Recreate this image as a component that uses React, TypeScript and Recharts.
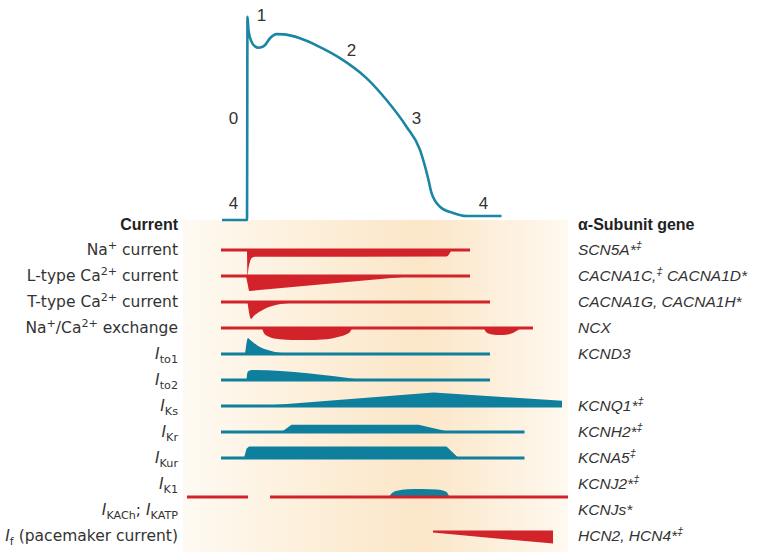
import { ComposedChart, Line, Area, Scatter, XAxis, YAxis } from "recharts";

const WIDTH = 762;
const HEIGHT = 560;
const LEFT_W = 183;
const RIGHT_W = 194;
// time axis in ms, 0 = upstroke
const TIME_DOMAIN: [number, number] = [-128, 642];
// membrane potential axis in mV
const AP_DOMAIN: [number, number] = [-300, 50];
// row axis: row i sits at value -i
const ROW0_Y = 250;
const ROW_PITCH = 26;
const ROW_DOMAIN: [number, number] = [-(HEIGHT - ROW0_Y) / ROW_PITCH, ROW0_Y / ROW_PITCH];

const RED = "#d2232a";
const TEAL = "#0e7f9d";
const AP_COLOR = "#1a86a4";
const TEXT = "#333333";

// action potential
const apTime = [-50, 0, 1, 3, 9, 16, 23, 30, 36, 46, 59, 75, 106, 146, 186, 239, 279, 319, 346, 363, 369, 386, 412, 439, 509];
const apVolt = [-87.5, -87.5, 39.5, 31, 24, 21, 20.2, 20.6, 21.9, 26.1, 28.7, 28.5, 26.1, 20.6, 13.7, 1.2, -12.5, -29.2, -43.7, -62.5, -70.6, -79.2, -83.1, -85, -85];

const phaseLabels = ["0", "1", "2", "3", "4", "4"];
const phaseTime = [-27, 29, 209, 339, -27, 473];
const phaseVolt = [-24, 40.6, 18.75, -24, -77, -77];

// currents (relative amplitude, inward < 0, outward > 0)
const naTime = [0, 1, 3, 6, 10, 16, 399, 409];
const naAmp = [0, -1.0, -0.7, -0.45, -0.3, -0.26, -0.25, 0];
const caLTime = [-2, 4, 333];
const caLAmp = [0, -0.58, 0];
const caTTime = [1, 8, 14, 20, 28, 40, 54, 70, 90, 110, 130];
const caTAmp = [0, -0.65, -0.53, -0.44, -0.35, -0.22, -0.13, -0.07, -0.03, -0.01, 0];
const ncxTime = [30, 34, 40, 50, 66, 90, 120, 150, 170, 186, 198, 206, 212, 472, 478, 488, 500, 512, 524, 534, 542, 546];
const ncxAmp = [0, -0.2, -0.3, -0.38, -0.43, -0.46, -0.46, -0.44, -0.4, -0.33, -0.25, -0.15, 0, 0, -0.15, -0.24, -0.27, -0.27, -0.24, -0.17, -0.08, 0];
const to1Time = [-4, 2, 6, 12, 20, 30, 40, 54, 70, 86, 100];
const to1Amp = [0, 0.62, 0.55, 0.45, 0.34, 0.23, 0.16, 0.09, 0.04, 0.02, 0];
const to2Time = [-1, 1, 4, 10, 229];
const to2Amp = [0, 0.3, 0.36, 0.38, 0];
const ksTime = [29, 373, 630];
const ksAmp = [0, 0.52, 0.2];
const krTime = [69, 89, 343, 406];
const krAmp = [0, 0.28, 0.28, 0];
const kurTime = [-6, -1, 4, 399, 423];
const kurAmp = [0, 0.36, 0.44, 0.44, 0];
const k1Time = [284, 290, 300, 320, 350, 380, 396, 402, 405];
const k1Amp = [0, 0.15, 0.24, 0.3, 0.31, 0.29, 0.22, 0.12, 0];
const ifTime = [372, 612];
const ifAmp = [-0.08, -0.5];

type Seg = [string, string?];

const currentLabels: Seg[][] = [
  [["Na"], ["+", "sup"], [" current"]],
  [["L-type Ca"], ["2+", "sup"], [" current"]],
  [["T-type Ca"], ["2+", "sup"], [" current"]],
  [["Na"], ["+", "sup"], ["/Ca"], ["2+", "sup"], [" exchange"]],
  [["I", "i"], ["to1", "sub"]],
  [["I", "i"], ["to2", "sub"]],
  [["I", "i"], ["Ks", "sub"]],
  [["I", "i"], ["Kr", "sub"]],
  [["I", "i"], ["Kur", "sub"]],
  [["I", "i"], ["K1", "sub"]],
  [["I", "i"], ["KACh", "sub"], ["; "], ["I", "i"], ["KATP", "sub"]],
  [["I", "i"], ["f", "sub"], [" (pacemaker current)"]],
];

const geneLabels: Seg[][] = [
  [["SCN5A*"], ["‡", "sup"]],
  [["CACNA1C,"], ["‡", "sup"], [" CACNA1D*"]],
  [["CACNA1G, CACNA1H*"]],
  [["NCX"]],
  [["KCND3"]],
  [],
  [["KCNQ1*"], ["‡", "sup"]],
  [["KCNH2*"], ["‡", "sup"]],
  [["KCNA5"], ["‡", "sup"]],
  [["KCNJ2*"], ["‡", "sup"]],
  [["KCNJs*"]],
  [["HCN2, HCN4*"], ["‡", "sup"]],
];

const rowTicks = [1, ...currentLabels.map((_, i) => -i)];

const currents = [
  { key: "na", slot: 0, fill: RED, line: RED, curve: "monotone", spans: [[-52, 446]], time: naTime, amp: naAmp },
  { key: "caL", slot: 1, fill: RED, line: RED, curve: "linear", spans: [[-52, 446]], time: caLTime, amp: caLAmp },
  { key: "caT", slot: 2, fill: RED, line: RED, curve: "monotone", spans: [[-52, 486]], time: caTTime, amp: caTAmp },
  { key: "ncx", slot: 3, fill: RED, line: RED, curve: "monotone", spans: [[-52, 572]], time: ncxTime, amp: ncxAmp },
  { key: "to1", slot: 4, fill: TEAL, line: TEAL, curve: "monotone", spans: [[-52, 486]], time: to1Time, amp: to1Amp },
  { key: "to2", slot: 5, fill: TEAL, line: TEAL, curve: "monotone", spans: [[-52, 486]], time: to2Time, amp: to2Amp },
  { key: "ks", slot: 6, fill: TEAL, line: TEAL, curve: "linear", spans: [[-52, 630]], time: ksTime, amp: ksAmp },
  { key: "kr", slot: 7, fill: TEAL, line: TEAL, curve: "linear", spans: [[-52, 555]], time: krTime, amp: krAmp },
  { key: "kur", slot: 8, fill: TEAL, line: TEAL, curve: "linear", spans: [[-52, 555]], time: kurTime, amp: kurAmp },
  { key: "k1", slot: 9.5, fill: TEAL, line: RED, curve: "monotone", spans: [[-120, 2], [46, 642]], time: k1Time, amp: k1Amp },
  { key: "if", slot: 10.79, fill: RED, line: null, curve: "linear", spans: [], time: ifTime, amp: ifAmp },
];

const apData = apTime.map((t, i) => ({ t, v: apVolt[i] }));
const phaseData = phaseLabels.map((label, i) => ({ t: phaseTime[i], v: phaseVolt[i], label }));

function spanData(spans: number[][], base: number) {
  const out: { t: number; y: number | null }[] = [];
  spans.forEach(([a, b], i) => {
    if (i > 0) out.push({ t: (spans[i - 1][1] + a) / 2, y: null });
    out.push({ t: a, y: base }, { t: b, y: base });
  });
  return out;
}

function RichTick(props: any) {
  const { y, payload, rows, header, anchor, labelX, family, size, italic } = props;
  const idx = Math.round(-payload.value);
  if (idx < 0) {
    return (
      <text x={labelX} y={y + 5.5} textAnchor={anchor} fontFamily="'Liberation Sans', Arial, sans-serif" fontWeight="bold" fontSize={16} fill="#222">
        {header}
      </text>
    );
  }
  const segs: Seg[] = rows[idx] || [];
  if (!segs.length) return <g />;
  let shift = 0;
  return (
    <text x={labelX} y={y + 4.5} textAnchor={anchor} fontFamily={family} fontStyle={italic ? "italic" : "normal"} fontSize={size} fill={TEXT}>
      {segs.map(([s, kind], i) => {
        const target = kind === "sup" ? -5.5 : kind === "sub" ? 4.5 : 0;
        const dy = target - shift;
        shift = target;
        const small = kind === "sup" || kind === "sub";
        return (
          <tspan key={i} dy={dy} fontSize={small ? size * 0.72 : size} fontStyle={kind === "i" ? "italic" : undefined}>
            {s}
          </tspan>
        );
      })}
    </text>
  );
}

function PhaseLabel(props: any) {
  const { cx, cy, payload } = props;
  return (
    <text x={cx} y={cy + 6} textAnchor="middle" fontFamily="'Liberation Sans', Arial, sans-serif" fontSize={17} fill={TEXT}>
      {payload.label}
    </text>
  );
}

export default function App() {
  return (
    <div style={{ position: "relative", width: WIDTH, height: HEIGHT, background: "#fff" }}>
      <style>{"body{margin:0}"}</style>
      <div
        style={{
          position: "absolute",
          left: LEFT_W,
          top: 220,
          width: WIDTH - LEFT_W - RIGHT_W,
          height: 332,
          background: "linear-gradient(to right, #fefaf3 0%, #fdf0dc 30%, #fbe6c8 62%, #fdf1df 85%, #fff9f0 100%)",
        }}
      />
      <div style={{ position: "absolute", left: 0, top: 0 }}>
        <ComposedChart width={WIDTH} height={HEIGHT} margin={{ top: 0, right: 0, bottom: 0, left: 0 }}>
          <XAxis type="number" dataKey="t" domain={TIME_DOMAIN} allowDataOverflow hide />
          <YAxis yAxisId="ap" type="number" domain={AP_DOMAIN} allowDataOverflow hide />
          <YAxis
            yAxisId="rows"
            orientation="left"
            type="number"
            width={LEFT_W}
            domain={ROW_DOMAIN}
            allowDataOverflow
            ticks={rowTicks}
            interval={0}
            axisLine={false}
            tickLine={false}
            tick={(p: any) => (
              <RichTick {...p} rows={currentLabels} header="Current" anchor="end" labelX={LEFT_W - 5} family="'DejaVu Sans', sans-serif" size={15.5} />
            )}
          />
          <YAxis
            yAxisId="genes"
            orientation="right"
            type="number"
            width={RIGHT_W}
            domain={ROW_DOMAIN}
            allowDataOverflow
            ticks={rowTicks}
            interval={0}
            axisLine={false}
            tickLine={false}
            tick={(p: any) => (
              <RichTick {...p} rows={geneLabels} header="α-Subunit gene" anchor="start" labelX={WIDTH - RIGHT_W + 10} family="'Liberation Sans', Arial, sans-serif" size={15.5} italic />
            )}
          />
          {currents.map((c) => (
            <Area
              key={`area-${c.key}`}
              yAxisId="rows"
              data={c.time.map((t, i) => ({ t, r: [-c.slot, -c.slot + c.amp[i]] }))}
              dataKey="r"
              type={c.curve as any}
              fill={c.fill}
              fillOpacity={1}
              stroke="none"
              isAnimationActive={false}
              activeDot={false}
            />
          ))}
          {currents
            .filter((c) => c.line)
            .map((c) => (
              <Line
                key={`line-${c.key}`}
                yAxisId="rows"
                data={spanData(c.spans, -c.slot)}
                dataKey="y"
                type="linear"
                stroke={c.line as string}
                strokeWidth={3}
                dot={false}
                activeDot={false}
                connectNulls={false}
                isAnimationActive={false}
              />
            ))}
          <Line
            yAxisId="ap"
            data={apData}
            dataKey="v"
            type="monotone"
            stroke={AP_COLOR}
            strokeWidth={2.6}
            dot={false}
            activeDot={false}
            isAnimationActive={false}
          />
          <Scatter yAxisId="ap" data={phaseData} dataKey="v" shape={<PhaseLabel />} isAnimationActive={false} />
        </ComposedChart>
      </div>
    </div>
  );
}
